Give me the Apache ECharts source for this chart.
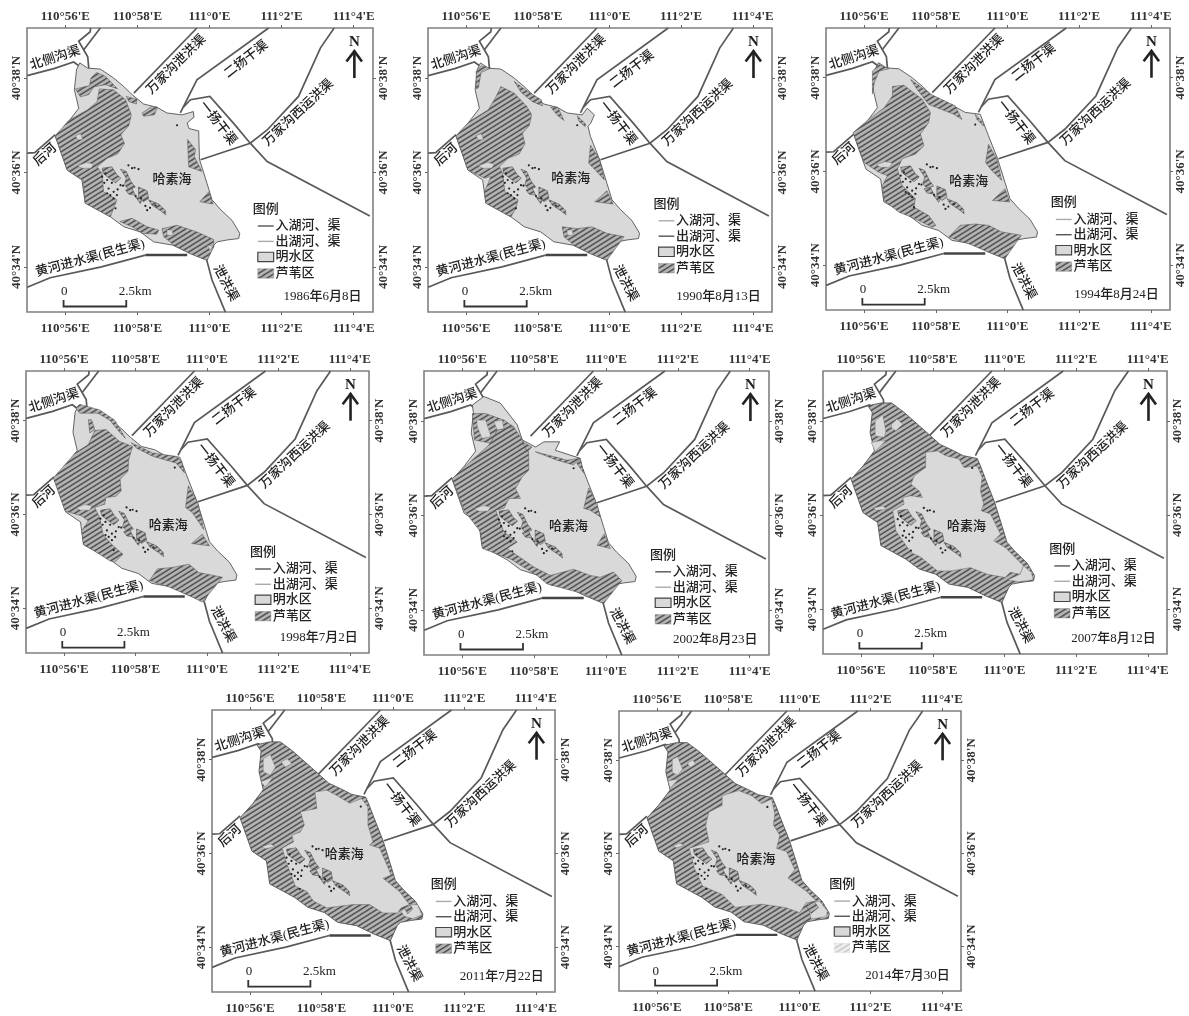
<!DOCTYPE html>
<html><head><meta charset="utf-8">
<script src="https://cdn.jsdelivr.net/npm/echarts@6/dist/echarts.min.js"></script>
<style>html,body{margin:0;padding:0;background:#fff}#c{width:1189px;height:1016px}</style>
</head><body><div id="c"></div>
<script>
// All coordinates: [minutes of longitude counted from 110°0'E, minutes of latitude counted from 40°0'N]
const lonTicks=[56,58,60,62,64];
const latTicks=[34,36,38];
const dates=['1986年6月8日','1990年8月13日','1994年8月24日','1998年7月2日','2002年8月23日','2007年8月12日','2011年7月22日','2014年7月30日'];

// canals
const beice=[[54.94,38.05],[55.68,38.2],[56.23,38.34],[56.5,38.19]];
const beiceA=[[56.7,39.06],[56.69,38.98],[56.37,38.78],[56.62,38.45],[56.65,38.2]];
const beiceB=[[56.97,39.06],[56.51,38.6]];
const wanjiaFlood=[[59.65,39.06],[57.9,37.68]];
const erYang=[[61.64,39.06],[59.65,37.96],[59.19,37.26]];
const yiYang=[[59.27,37.38],[59.47,37.54],[60.01,37.61],[60.67,37.04],[61.13,36.62],[61.6,36.23],[64.45,35.08]];
const wanjiaWest=[[63.46,39.06],[63.08,38.64],[62.47,37.61],[61.6,36.9],[61.13,36.62],[59.75,36.27]];
const houHe=[[54.94,36.41],[55.15,36.42],[55.72,36.8]];
const yellowRiver=[[54.94,33.57],[55.58,33.77],[57,34],[58.22,34.25]];
const yellowRiverEnd=[[58.22,34.25],[59.38,34.25]];
const floodOut=[[59.91,34.18],[60.07,33.72],[60.44,33.04]];

// lake outline parts
const lakeNorth=[[56.4,38.32],[56.62,38.21],[56.97,38.19],[57.34,38],[57.62,37.82],[57.85,37.65],[58.17,37.45],[58.54,37.38],[58.82,37.26],[59.24,37.22]];
const lakeNorthFull=[[56.19,38.32],[56.55,38.38],[56.85,38.38],[57.2,38.18],[57.88,37.72],[58.2,37.5],[58.54,37.38],[58.85,37.26],[59.24,37.2]];
const lakeNorth2002=[[56.28,38.34],[56.6,38.52],[57.06,38.38],[57.53,37.92],[57.67,37.6],[58.04,37.45],[58.27,37.56],[58.71,37.56],[58.59,37.38],[59.28,37.21]];
const lakeCorner=[[59.33,37.04],[59.47,36.76]];
const bay1986=[[59.55,37.29],[59.57,37.17],[59.38,37.05],[59.43,36.93],[59.7,36.88]];
const bay1990=[[59.38,37.36],[59.58,37.22],[59.47,37.03],[59.4,36.98],[59.47,36.76]];
const lakeRest=[[59.72,36.28],[59.93,35.77],[60.07,35.42],[60.3,35.22],[60.63,34.98],[60.84,34.71],[60.81,34.6],[60.49,34.57],[60.21,34.53],[60.12,34.46],[59.93,34.14],[59.47,34.28],[58.98,34.46],[58.45,34.53],[58.08,34.74],[57.62,34.85],[57.25,35.06],[56.55,35.35],[56.46,35.84],[56.05,36.05],[55.72,36.76],[56.05,37.04],[56.37,37.36],[56.25,37.75],[56.31,38.18]];

// features present in every year
const chainA=[[57.53,36.07],[57.69,36.02],[57.82,35.81],[57.94,35.69],[57.76,35.63],[57.64,35.74],[57.69,35.88]];
const chainB=[[57.67,35.63],[57.85,35.66],[57.94,35.52],[57.76,35.54]];
const chainC=[[58.03,35.69],[58.27,35.61],[58.31,35.45],[58.17,35.38],[58.03,35.49]];
const chainD=[[57.94,35.49],[58.13,35.43],[58.08,35.34]];
const chainE=[[58.31,35.42],[58.59,35.33],[58.77,35.2],[58.79,35.1],[58.64,35.19],[58.4,35.31]];
const midIslet=[[57.02,36.09],[57.29,36.12],[57.43,35.95],[57.54,35.88],[57.39,35.78],[57.18,35.9],[57.05,35.98]];
const spots=[[57.16,35.84],[57.29,35.78],[57.45,35.64],[57.02,35.91],[57.2,35.66],[57.85,36.09],[58.03,36.07],[58.27,35.2],[58.22,35.29],[57.39,35.24],[57.34,35.45],[57.6,35.72],[57.95,35.5],[58.1,35.45],[58.5,35.3],[57.08,35.78],[57.53,35.73],[57.25,35.52],[57.43,35.52],[57.11,35.98],[57.34,35.59],[57.16,35.56],[57.92,36.1],[57.75,36.15],[58.35,35.25],[59.1,37]];
const pondSmall=[[56.28,36.78],[56.42,36.82],[56.48,36.7],[56.34,36.69]];
const pondLong=[[56.34,36.14],[56.58,36.21],[56.79,36.18],[56.71,36.09],[56.46,36.09]];

// reed beds
const reed1986=[
 [[55.72,36.78],[56.09,37.1],[56.62,37.33],[56.88,37.5],[56.94,37.77],[57.34,37.75],[57.67,37.54],[57.83,37.22],[57.76,36.99],[57.54,36.8],[57.64,36.61],[57.45,36.39],[57.16,36.3],[56.88,36.12],[57.02,35.98],[57.06,35.59],[57.43,35.42],[57.34,35.24],[57.25,35.06],[56.55,35.35],[56.49,35.84],[56.05,36.05]],
 [[56.71,38],[56.86,38.12],[57.11,38.04],[57.45,37.77],[57.11,37.86],[56.79,37.81],[56.65,37.65],[56.42,37.6],[56.28,37.77],[56.67,37.84]],
 [[57.69,37.61],[57.99,37.55],[57.97,37.45],[57.76,37.5]],
 [[58.13,37.26],[58.4,37.4],[58.56,37.38],[58.47,37.22],[58.17,37.19]],
 [[59.39,36.7],[59.61,36.49],[59.58,36.34],[59.79,36.02],[59.42,36.12]],
 [[59.98,35.59],[60.1,35.33],[59.73,35.38]],
 [[58.68,34.81],[59.1,34.88],[59.65,34.74],[60.12,34.58],[60.12,34.42],[59.93,34.14],[59.47,34.28],[59.01,34.46],[58.73,34.64]],
 [[57.51,34.96],[57.85,35.03],[58.27,34.85],[58.59,34.78],[58.54,34.69],[58.13,34.71],[57.85,34.85]]
];
const ponds1986=[pondSmall,pondLong,[[58.82,34.78],[58.96,34.78],[58.99,34.67],[58.82,34.67]],[[59.93,34.46],[60.1,34.44],[60.02,34.35]]];
const reed1990=[
 [[55.72,36.78],[56.09,37.08],[56.62,37.33],[56.83,37.6],[56.97,37.82],[57.34,37.68],[57.69,37.4],[57.83,37.22],[57.76,36.99],[57.57,36.83],[57.64,36.61],[57.48,36.39],[57.17,36.3],[56.93,36.12],[57.02,35.98],[57.08,35.59],[57.45,35.42],[57.39,35.24],[57.25,35.06],[56.55,35.35],[56.51,35.59],[56.69,35.91],[56.51,35.88],[56.05,36.05]],
 [[56.28,38.14],[56.42,38.26],[56.68,38.21],[56.42,38.12],[56.34,37.79],[56.28,37.77]],
 [[57.34,37.93],[57.67,37.74],[58.1,37.54],[58.13,37.41],[57.85,37.5],[57.53,37.7]],
 [[58.36,37.38],[58.56,37.38],[58.73,37.1],[58.56,37.2]],
 [[59.1,37.2],[59.33,37.03],[59.33,36.97],[59.15,37.08]],
 [[59.47,36.58],[59.72,36.28],[59.86,35.84],[59.56,36.09],[59.42,36.19]],
 [[59.93,35.61],[60.1,35.33],[59.59,35.38]],
 [[58.68,34.85],[59.1,34.81],[59.51,34.85],[59.93,34.71],[60.41,34.64],[59.93,34.14],[59.47,34.28],[59.01,34.46],[58.73,34.64]]
];
const ponds1990=[pondSmall,pondLong,[[58.82,34.78],[58.96,34.78],[58.99,34.67],[58.82,34.67]]];
const reed1994=[
 [[55.69,36.83],[56.14,37.12],[56.56,37.36],[56.79,37.61],[56.79,37.81],[57.11,37.84],[57.62,37.54],[57.85,37.26],[57.8,37.04],[57.57,36.8],[57.67,36.55],[57.43,36.37],[57.06,36.27],[56.93,36.05],[57.06,35.7],[57.43,35.42],[57.39,35.24],[57.8,35.06],[58,34.85],[57.9,34.81],[57.43,34.99],[56.97,35.13],[56.56,35.38],[56.51,35.7],[56.65,35.91],[56.42,35.98],[56,36.19]],
 [[56.23,38.14],[56.42,38.28],[56.69,38.19],[56.42,38.14],[56.28,37.89],[56.23,37.65]],
 [[57.3,37.96],[57.85,37.65],[58.54,37.4],[58.73,37.11],[58.5,37.22],[57.8,37.43],[57.48,37.75]],
 [[59.1,37.22],[59.33,37.03],[59.33,36.97],[59.15,37.11]],
 [[59.47,36.58],[59.7,36.27],[59.84,35.81],[59.56,36.02],[59.39,36.19]],
 [[59.93,35.63],[60.07,35.35],[59.58,35.38]],
 [[58.36,34.6],[58.68,34.85],[59.1,34.88],[59.47,34.85],[59.84,34.71],[60.39,34.64],[59.93,34.14],[59.47,34.28],[58.91,34.46]]
];
const ponds1994=[pondLong];
const reed1998=[
 [[55.7,36.78],[56.31,37.31],[56.68,37.49],[56.86,37.79],[57.18,37.81],[57.55,37.56],[57.92,37.45],[57.81,37.17],[57.79,36.92],[57.57,36.75],[57.6,36.5],[57.46,36.39],[57.17,36.36],[57.14,36.22],[56.86,36.15],[57,35.93],[57.09,35.58],[57.32,35.37],[57.65,35.15],[57.42,34.98],[57.28,35.01],[56.54,35.37],[56.49,35.65],[56.68,35.86],[56.49,35.97],[56.03,36.07]],
 [[56.33,38.27],[56.44,38.35],[57,38.23],[57.42,38.01],[57.72,37.62],[57.55,37.76],[57.28,38.01],[56.95,38.16],[56.44,38.16]],
 [[57.88,37.53],[58.48,37.31],[59.13,37.24],[59.29,37.14],[59.37,36.89],[59.13,37.1],[58.94,37.14],[58.48,37.24],[58.02,37.42]],
 [[56.68,38.02],[56.77,38.02],[56.86,37.81],[56.72,37.74]],
 [[59.48,36.61],[59.59,36.46],[59.75,36.25],[59.91,35.68],[59.59,36.04],[59.4,36.15]],
 [[59.87,35.58],[60.07,35.33],[59.57,35.38]],
 [[58.39,34.59],[58.62,34.84],[59.03,34.87],[59.5,34.94],[59.77,34.76],[60.44,34.66],[59.87,34.13],[59.5,34.27],[58.94,34.45]]
];
const ponds1998=[pondLong];
const reed2002=[
 [[55.72,36.78],[56.37,37.24],[56.74,37.49],[56.97,37.81],[57.43,37.88],[57.67,37.6],[57.85,37.35],[57.85,36.96],[57.67,36.82],[57.48,36.57],[57.62,36.36],[57.3,36.36],[57.16,36.15],[56.93,36.11],[57.16,35.65],[57.53,35.44],[57.25,35.3],[57.99,34.91],[58.45,34.73],[59.1,34.86],[59.56,34.73],[59.84,34.69],[60.21,34.8],[60.44,34.62],[59.93,34.13],[59.38,34.34],[58.36,34.55],[58.08,34.73],[57.34,35.08],[56.56,35.3],[56.51,35.65],[56.05,36.11]],
 [[56.28,38.16],[56.65,38.16],[57.16,38.02],[57.43,37.88],[56.97,37.81],[56.79,37.53],[56.34,37.6]],
 [[57.67,37.56],[57.94,37.45],[57.8,37.35]],
 [[58.03,37.35],[58.73,37.21],[58.91,37.17],[59.28,37.21],[59.1,37.07],[58.64,37.17]],
 [[59.28,37.21],[59.39,36.89],[59.19,37.1]],
 [[59.52,36.58],[59.75,36.25],[59.84,35.97],[59.56,36.11],[59.38,36.15]],
 [[59.95,35.61],[60.12,35.3],[59.75,35.37]]
];
const ponds2002=[pondLong,[[56.4,38.02],[56.65,38.02],[56.8,37.67],[56.55,37.63],[56.42,37.88]],[[56.88,37.99],[57.11,38.02],[57.16,37.84],[56.97,37.81]]];
const water2007=[[57.8,37.33],[58.13,37.36],[58.36,37.26],[58.73,37.19],[58.87,37.01],[59.24,37.04],[59.38,36.8],[59.33,36.51],[59.42,36.23],[59.35,36.09],[59.61,36.02],[59.89,35.59],[59.7,35.45],[60.02,35.31],[60.53,34.92],[60.44,34.74],[60.16,34.78],[60.02,34.67],[59.52,34.74],[59.05,34.88],[58.5,34.81],[58.13,34.81],[57.67,35.1],[57.39,35.2],[57.16,35.45],[56.97,35.66],[56.93,35.88],[56.88,36.09],[57.2,36.23],[57.16,36.37],[57.39,36.41],[57.71,36.37],[57.62,36.51],[57.39,36.65],[57.48,36.83],[57.8,37.01]];
const ponds2007=[[[56.39,38],[56.6,38.13],[56.69,37.79],[56.65,37.65],[56.39,37.68]],[[56.85,37.93],[57,38.04],[57.16,37.93],[56.97,37.79],[56.85,37.84]],[[56.28,37.54],[56.55,37.58],[56.69,37.58],[56.39,37.35]],[[56.35,36.15],[56.6,36.19],[56.72,36.12],[56.42,36.1]],[[60.44,34.74],[60.53,34.92],[60.75,34.78],[60.8,34.62],[60.4,34.58],[60.1,34.62]]];
const water2011=[[57.82,37.31],[58.15,37.35],[58.42,37.24],[58.79,37.07],[59.12,37.17],[59.3,36.99],[59.3,36.61],[59.44,36.25],[59.35,36.18],[59.63,36.11],[59.95,35.54],[59.72,35.47],[60.18,35.19],[60.46,34.91],[60.23,34.84],[60.13,34.73],[59.72,34.73],[59.35,34.91],[58.89,34.91],[58.15,34.84],[57.78,34.98],[57.59,35.19],[57.27,35.3],[57.04,35.76],[56.9,36.11],[57.22,36.25],[57.17,36.39],[57.41,36.46],[57.52,36.61],[57.41,36.89],[57.87,36.96]];
const ponds2011=[[[56.37,38.02],[56.57,38.11],[56.71,37.84],[56.57,37.67],[56.37,37.74]],[[56.87,37.95],[57.04,38.02],[57.17,37.92],[56.99,37.84]],[[56.3,37.53],[56.65,37.63],[56.43,37.42]],[[56.34,36.15],[56.57,36.2],[56.71,36.15],[56.43,36.1]],[[60.23,34.76],[60.46,34.91],[60.69,34.91],[60.81,34.69],[60.55,34.61],[60.32,34.66]]];
const tail2011=[[60.32,34.84],[60.5,34.9],[60.55,34.81],[60.41,34.71]];
const water2014=[[57.83,37.24],[58.29,37.35],[58.66,37.24],[58.94,37.07],[59.22,37.17],[59.31,36.85],[59.27,36.61],[59.45,36.39],[59.36,36.11],[59.64,36.04],[59.87,35.65],[59.68,35.47],[60.19,35.19],[60.47,34.98],[60.19,34.94],[60.01,34.73],[59.59,34.84],[58.94,34.91],[58.2,34.84],[57.83,35.12],[57.28,35.3],[57.18,35.47],[57.05,35.68],[56.91,36.11],[57.46,36.25],[57.37,36.61],[57.46,36.89],[57.83,37.03]];
const ponds2014=[[[56.43,38.02],[56.58,38.08],[56.72,37.81],[56.58,37.68],[56.43,37.74]],[[56.86,37.94],[57,38.01],[57.09,37.92],[56.93,37.84]],[[56.31,37.56],[56.61,37.6],[56.37,37.4]],[[56.44,36.15],[56.63,36.22],[56.77,36.18],[56.56,36.12]],[[60.24,34.91],[60.56,34.98],[60.79,34.76],[60.75,34.64],[60.33,34.59]]];
const tail2014=[[60.19,34.87],[60.42,34.96],[60.54,34.84],[60.33,34.71]];

// text anchors
const canalNames=['北侧沟渠','万家沟泄洪渠','万家沟西运洪渠','一扬干渠','后河','黄河进水渠(民生渠)','泄洪渠'];
const canalAnchors=[[55.72,38.42],[59.08,38.28],[62.47,37.26],[60.23,37.04],[55.44,36.37],[56.69,34.18],[60.44,33.65]];
const erYangName='二扬干渠';
const erYangAnchors=[[61.02,38.39],[60.63,38.18],[60.74,38.32],[60.77,38.3],[60.81,38.3],[60.78,38.28],[60.62,38.22],[60.56,38.22]];
const lakeName='哈素海';
const lakeNameAnchors=[[58.96,35.84],[58.92,35.87],[58.92,35.78],[58.92,35.76],[58.96,35.77],[58.94,35.76],[58.64,35.97],[58.78,35.87]];
const legendTitle='图例';
const legendItems=['入湖河、渠','出湖河、渠','明水区','芦苇区'];
const legendAnchors=[[61.34,35.22],[61.37,35.33],[61.35,35.33],[61.35,35.19],[61.37,35.16],[61.39,35.27],[61.2,35.33],[60.98,35.33]];

const outlines=[
 [...lakeNorth,...bay1986,...lakeRest],
 [...lakeNorth,...bay1990,...lakeRest],
 [...lakeNorth,...lakeCorner,...lakeRest],
 [...lakeNorth,...lakeCorner,...lakeRest],
 [...lakeNorth2002,...lakeCorner,...lakeRest],
 [...lakeNorthFull,...lakeCorner,...lakeRest],
 [...lakeNorthFull,...lakeCorner,...lakeRest],
 [...lakeNorthFull,...lakeCorner,...lakeRest]
];
const reeds=[reed1986,reed1990,reed1994,reed1998,reed2002,[],[],[]];
const openWater=[null,null,null,null,null,water2007,water2011,water2014];
const ponds=[ponds1986,ponds1990,ponds1994,ponds1998,ponds2002,ponds2007,ponds2011,ponds2014];
const tails=[[],[],[],[],[],[],[tail2011],[tail2014]];

// layout of the eight frames on the page: left, top, width, height
const frames=[[27,28,346,284],[428,28,344,284],[826,28,344,282],[26,371,343,282],[424,371,345,284],[823,371,344,283],[212,710,343,282],[619,711,342,280]];
const firstLegendDark=[true,false,false,true,true,true,false,false];

const LON=[54.935,64.537], LAT=[33.044,39.06];
const FONT="'Liberation Serif','Noto Sans CJK SC',serif";
const WATER='#d9d9d9';

function hatch(bg,fg,lw){
 const c=document.createElement('canvas');c.width=8;c.height=5;
 const g=c.getContext('2d');g.fillStyle=bg;g.fillRect(0,0,8,5);
 g.strokeStyle=fg;g.lineWidth=lw;
 [[-8,5,8,-5],[0,5,8,0],[0,10,16,0]].forEach(l=>{g.beginPath();g.moveTo(l[0],l[1]);g.lineTo(l[2],l[3]);g.stroke();});
 return {image:c,repeat:'repeat'};
}
const REED=hatch('#b4b4b4','#555555',1.5);
const REED_PALE=hatch('#ececec','#c8c8c8',1.4);

function itemsFor(i){
 const it=[];
 const line=(pts,w,c)=>it.push({k:'line',pts,w:w||1.7,c:c||'#595959'});
 const poly=(pts,fill,stroke,lw)=>it.push({k:'poly',pts,fill,stroke,lw});
 const text=(s,pos,rot,size,opt)=>it.push(Object.assign({k:'text',s,pts:[pos],rot:rot||0,size:size||13},opt||{}));
 [beice,beiceA,beiceB,wanjiaFlood,erYang,yiYang,wanjiaWest,houHe,yellowRiver,floodOut].forEach(l=>line(l));
 line(yellowRiverEnd,2.4,'#444');
 const full=!!openWater[i];
 poly(outlines[i],full?REED:WATER,'#555',0.9);
 if(full) poly(openWater[i],WATER,'#666',0.5);
 reeds[i].forEach(r=>poly(r,REED,'#555',0.5));
 ponds[i].forEach(r=>poly(r,WATER,'#666',0.4));
 tails[i].forEach(r=>poly(r,REED,'#555',0.5));
 [chainA,chainB,chainC,chainD,chainE,midIslet].forEach(r=>poly(r,REED,'#444',0.5));
 spots.forEach(s=>it.push({k:'dot',pts:[s]}));
 const rots=[18,45,43,-52,42,15,-62];
 canalNames.forEach((n,j)=>text(n,canalAnchors[j],rots[j]));
 text(erYangName,erYangAnchors[i],38);
 text(lakeName,lakeNameAnchors[i],0);
 // north arrow
 text('N',[64.02,38.76],0,15,{weight:'bold',family:"'Liberation Serif',serif"});
 line([[64.02,38],[64.02,38.58]],2.6,'#222');
 line([[63.8,38.35],[64.02,38.57],[64.23,38.35]],2.6,'#222');
 // scale bar
 line([[55.95,33.3],[55.95,33.16],[57.69,33.16],[57.69,33.3]],1.8,'#333');
 text('0',[55.97,33.47],0,13);
 text('2.5km',[57.94,33.47],0,13);
 // date
 text(dates[i],[64.22,33.38],0,13,{align:'right'});
 // legend
 const a=legendAnchors[i];
 const rows=[0.354,0.68,1.01,1.36];
 text(legendTitle,[a[0]+0.22,a[1]],0,13);
 const cols=firstLegendDark[i]?['#555','#aaa']:['#aaa','#555'];
 rows.forEach((d,j)=>{
  const y=a[1]-d, x0=a[0], x1=a[0]+0.44;
  if(j<2) line([[x0,y],[x1,y]],1.4,cols[j]);
  else poly([[x0,y+0.1],[x1,y+0.1],[x1,y-0.1],[x0,y-0.1]],j===2?WATER:(i===7?REED_PALE:REED),j===2?'#444':(i===7?'#ddd':'#777'),j===2?1.2:0.4);
  text(legendItems[j],[a[0]+0.49,y],0,13,{align:'left'});
 });
 return it;
}

const lonLabel=v=>v<60?`110°${v}'E`:`111°${v-60}'E`;
const latLabel=v=>`40°${v}'N`;
const option={animation:false,backgroundColor:'#fff',grid:[],xAxis:[],yAxis:[],series:[]};
frames.forEach((f,i)=>{
 option.grid.push({left:f[0],top:f[1],width:f[2],height:f[3],show:true,borderColor:'#808080',borderWidth:1.6,backgroundColor:'#fff'});
 const tick={show:true,length:3,lineStyle:{color:'#666',width:1}};
 ['bottom','top'].forEach(pos=>option.xAxis.push({gridIndex:i,type:'value',position:pos,min:LON[0],max:LON[1],splitLine:{show:false},axisLine:{show:false},
  axisTick:Object.assign({customValues:lonTicks},tick),
  axisLabel:{customValues:lonTicks,formatter:lonLabel,margin:pos==='top'?5:10,fontFamily:FONT,fontSize:13,fontWeight:'bold',color:'#333'}}));
 ['left','right'].forEach(pos=>option.yAxis.push({gridIndex:i,type:'value',position:pos,min:LAT[0],max:LAT[1],splitLine:{show:false},axisLine:{show:false},
  axisTick:Object.assign({customValues:latTicks},tick),
  axisLabel:{customValues:latTicks,formatter:latLabel,rotate:90,margin:4,fontFamily:FONT,fontSize:13,fontWeight:'bold',color:'#333'}}));
 const items=itemsFor(i);
 option.series.push({type:'custom',coordinateSystem:'cartesian2d',xAxisIndex:i*2,yAxisIndex:i*2,silent:true,clip:false,
  data:items.map(t=>t.pts[0]),
  renderItem(params,api){
   const t=items[params.dataIndex];
   const p=t.pts.map(q=>api.coord(q));
   if(t.k==='poly') return {type:'polygon',shape:{points:p},style:{fill:t.fill,stroke:t.stroke,lineWidth:t.lw}};
   if(t.k==='line') return {type:'polyline',shape:{points:p},style:{fill:null,stroke:t.c,lineWidth:t.w}};
   if(t.k==='dot') return {type:'circle',shape:{cx:p[0][0],cy:p[0][1],r:1.1},style:{fill:'#222'}};
   return {type:'text',x:p[0][0],y:p[0][1],rotation:t.rot*Math.PI/180,
    style:{text:t.s,x:0,y:0,fill:'#222',align:t.align||'center',verticalAlign:'middle',
     font:`${t.weight||'500'} ${t.size}px ${t.family||FONT}`}};
  }});
});
echarts.init(document.getElementById('c'),null,{renderer:'canvas'}).setOption(option);
</script></body></html>
